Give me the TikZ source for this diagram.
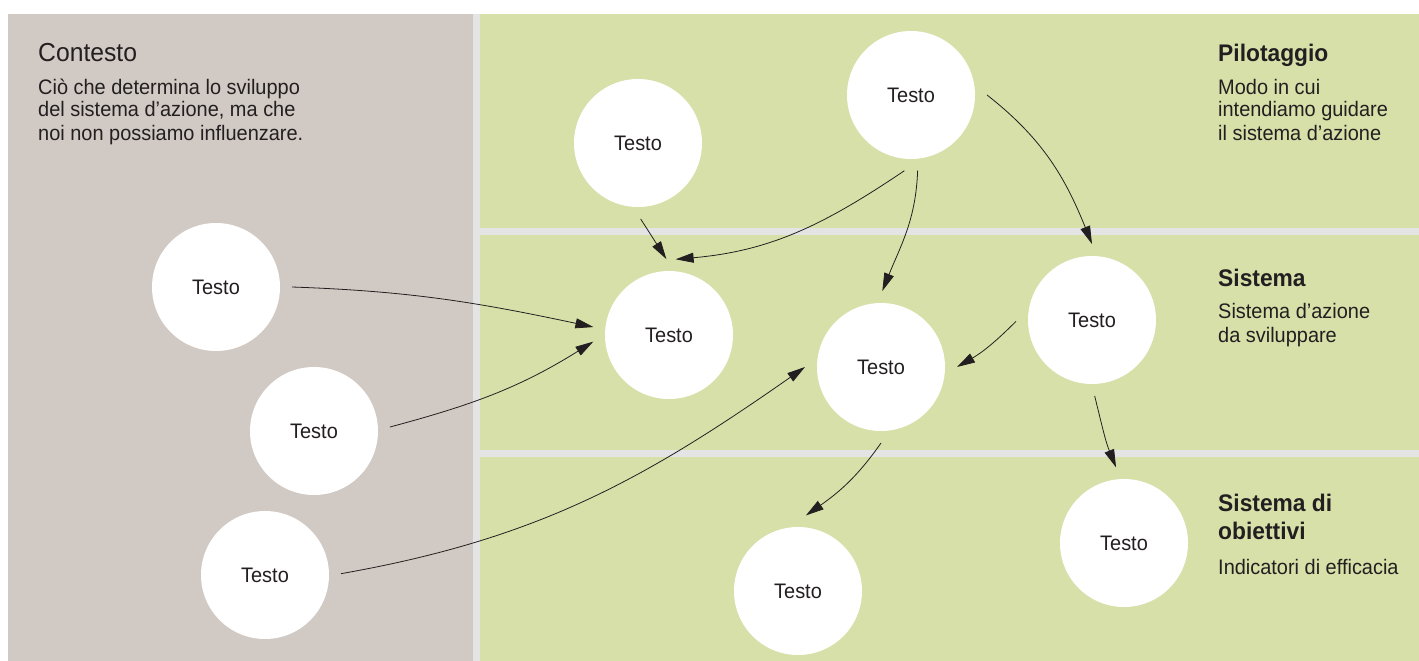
\documentclass[tikz,border=0pt]{standalone}
\usepackage{fontspec}
\setmainfont{Liberation Sans}[FakeStretch=0.95]
\usetikzlibrary{arrows.meta}
\definecolor{beige}{RGB}{209,201,195}
\definecolor{leaf}{RGB}{215,224,169}
\definecolor{sep}{RGB}{228,228,228}
\definecolor{ink}{RGB}{35,31,32}
\begin{document}
\begin{tikzpicture}[x=1pt,y=1pt,
  bubble/.style={circle,fill=white,minimum size=128pt,inner sep=0pt,outer sep=12pt,
    text=ink,font=\fontsize{21}{23}\selectfont},
  arr/.style={draw=ink,line width=0.8pt,-{Triangle[length=18pt,width=10pt]}},
  ttl/.style={anchor=base west,inner sep=0pt,text=ink,font=\fontsize{24}{26}\selectfont\bfseries},
  ttlr/.style={anchor=base west,inner sep=0pt,text=ink,font=\fontsize{26}{28}\selectfont},
  body/.style={anchor=base west,inner sep=0pt,text=ink,font=\fontsize{21}{23}\selectfont}]
% canvas
\fill[white] (0,0) rectangle (1419,-661);
\useasboundingbox (0,0) rectangle (1419,-661);
\fill[beige] (8,-14) rectangle (473,-661);
\fill[sep] (473,-14) rectangle (1419,-661);
\fill[leaf] (480,-14) rectangle (1419,-228);
\fill[leaf] (480,-235) rectangle (1419,-450);
\fill[leaf] (480,-457) rectangle (1419,-661);
% left texts
\node[ttlr] (tc) at (38,-62) {Contesto};
\node[body] (tc1) at (38,-94) {Ciò che determina lo sviluppo};
\node[body] (tc2) at (38,-117) {del sistema d’azione, ma che};
\node[body] (tc3) at (38,-140) {noi non possiamo influenzare.};
% right texts
\node[ttl] (tp) at (1218,-62) {Pilotaggio};
\node[body] (tp1) at (1218,-94) {Modo in cui};
\node[body] (tp2) at (1218,-117) {intendiamo guidare};
\node[body] (tp3) at (1218,-140) {il sistema d’azione};
\node[ttl] (ts) at (1218,-286) {Sistema};
\node[body] (ts1) at (1218,-318) {Sistema d’azione};
\node[body] (ts2) at (1218,-342) {da sviluppare};
\node[ttl] (to) at (1218,-511) {Sistema di};
\node[ttl] (to2) at (1218,-539) {obiettivi};
\node[body] (to3) at (1218,-574) {Indicatori di efficacia};
% bubbles
\node[bubble] (n1) at (911,-95) {Testo};
\node[bubble] (n2) at (638,-143) {Testo};
\node[bubble] (a) at (216,-287) {Testo};
\node[bubble] (b) at (314,-431) {Testo};
\node[bubble] (c) at (265,-575) {Testo};
\node[bubble] (s1) at (669,-335) {Testo};
\node[bubble] (s2) at (881,-367) {Testo};
\node[bubble] (s3) at (1092,-320) {Testo};
\node[bubble] (o1) at (1124,-543) {Testo};
\node[bubble] (o2) at (798,-591) {Testo};
% arrows
\draw[arr] (a.0) to[out=-2,in=168] (s1.174);
\draw[arr] (b.3) to[out=15,in=212] (s1.185);
\draw[arr] (c.1) to[out=10,in=215] (s2.180);
\draw[arr] (n2.-88) -- (s1.92);
\draw[arr] (n1.-95) to[out=214,in=5] (s1.85);
\draw[arr] (n1.-85) to[out=-92,in=68] (s2.89);
\draw[arr] (n1.0) to[out=-38,in=112] (s3.90);
\draw[arr] (s3.181) to[out=-135,in=30] (s2.0);
\draw[arr] (s3.-88) to[out=-76,in=112] (o1.96);
\draw[arr] (s2.-90) to[out=-125,in=35] (o2.84);
\end{tikzpicture}
\end{document}
